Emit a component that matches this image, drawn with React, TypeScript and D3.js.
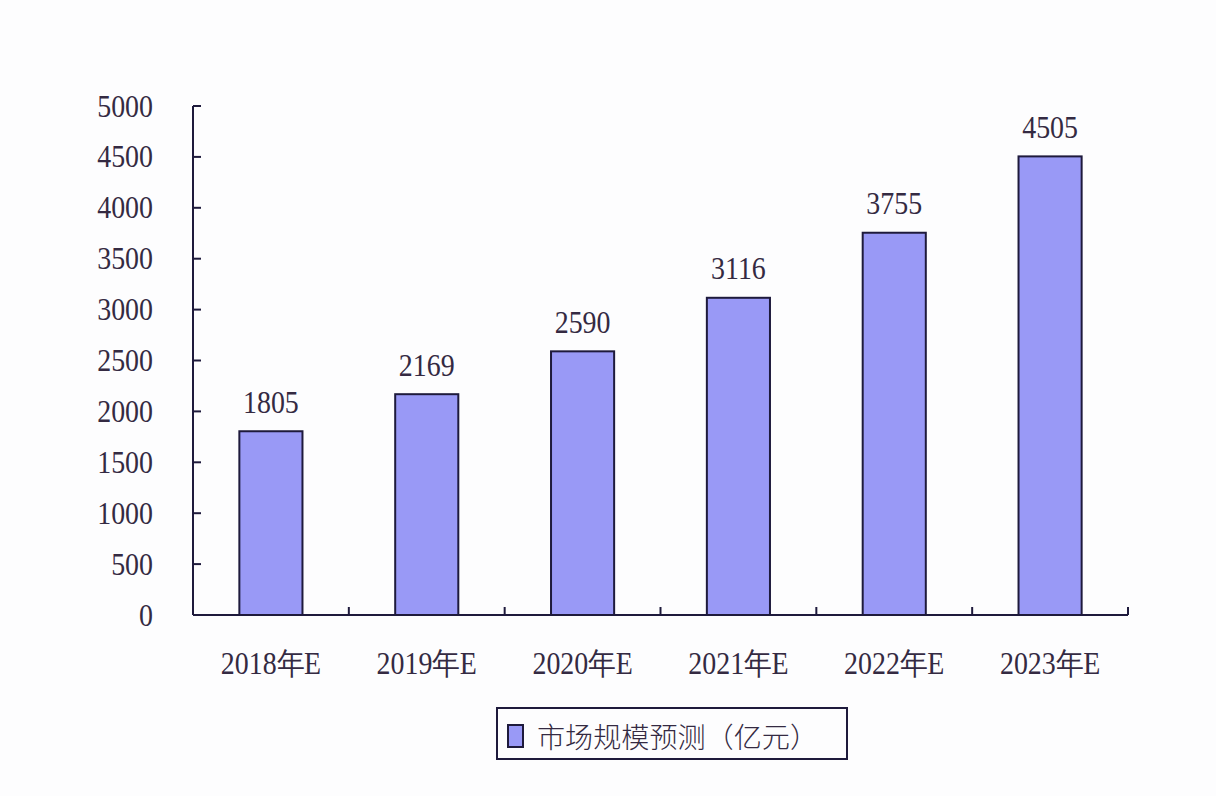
import { scaleLinear, scaleBand } from "d3";

const years = ["2018年E", "2019年E", "2020年E", "2021年E", "2022年E", "2023年E"];
const values = [1805, 2169, 2590, 3116, 3755, 4505];
const yTicks = [0, 500, 1000, 1500, 2000, 2500, 3000, 3500, 4000, 4500, 5000];
const legendLabel = "市场规模预测（亿元）";

const W = 1216, H = 796;
const X0 = 193, X1 = 1128, Y0 = 615, Y1 = 106;
const INK = "#1e1a3c";
const TXT = "#342a42";
const NUM_FONT = "'Liberation Serif', 'DejaVu Serif', serif";

// narrow serif digits like the original
function Num({ x, y, anchor, children }: { x: number; y: number; anchor: string; children: string }) {
  return (
    <g transform={`translate(${x},${y}) scale(0.9,1)`}>
      <text textAnchor={anchor} dominantBaseline="central" fontFamily={NUM_FONT} fontSize={31} fill={TXT}>{children}</text>
    </g>
  );
}

export default function App() {
  const x = scaleBand().domain(years).range([X0, X1]).padding(0);
  const y = scaleLinear().domain([0, 5000]).range([Y0, Y1]);
  const bw = x.bandwidth() * 0.405;

  return (
    <svg width={W} height={H} style={{ display: "block", position: "absolute", left: 0, top: 0 }}>
      <rect width={W} height={H} fill="#fdfdfe" />
      {years.map((yr, i) => {
        const cx = (x(yr) ?? 0) + x.bandwidth() / 2;
        return (
          <g key={yr}>
            <rect x={cx - bw / 2} y={y(values[i])} width={bw} height={Y0 - y(values[i])}
              fill="#9999f6" stroke={INK} strokeWidth={2} />
            <Num x={cx} y={y(values[i]) - 29} anchor="middle">{String(values[i])}</Num>
            <Num x={cx} y={663} anchor="middle">{yr}</Num>
          </g>
        );
      })}
      {/* y axis */}
      <line x1={X0} x2={X0} y1={Y1} y2={Y0} stroke={INK} strokeWidth={2} />
      {yTicks.map(t => (
        <g key={t}>
          <line x1={X0} x2={X0 + 8} y1={y(t)} y2={y(t)} stroke={INK} strokeWidth={2} />
          <Num x={153} y={y(t)} anchor="end">{String(t)}</Num>
        </g>
      ))}
      {/* x axis */}
      <line x1={X0} x2={X1} y1={Y0} y2={Y0} stroke={INK} strokeWidth={2} />
      {years.map(yr => {
        const bx = (x(yr) ?? 0) + x.bandwidth();
        return <line key={yr} x1={bx} x2={bx} y1={Y0} y2={Y0 - 8} stroke={INK} strokeWidth={2} />;
      })}
      {/* legend */}
      <rect x={497} y={708} width={350} height={51} fill="#fdfdfe" stroke={INK} strokeWidth={2} />
      <rect x={508} y={725} width={15} height={22} fill="#9999f6" stroke={INK} strokeWidth={2} />
      <text x={537} y={736} dominantBaseline="central" fontFamily="'Noto Sans CJK SC', sans-serif"
        fontSize={28} fontWeight={300} fill={TXT} textLength={281} lengthAdjust="spacingAndGlyphs">{legendLabel}</text>
    </svg>
  );
}
